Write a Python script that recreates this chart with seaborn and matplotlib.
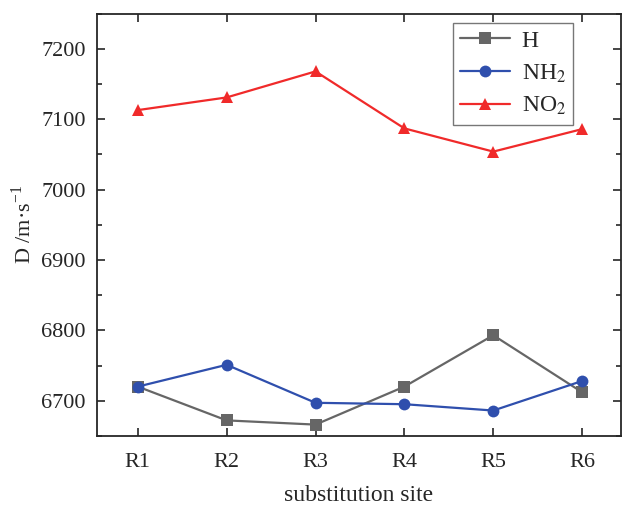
import matplotlib
matplotlib.use("Agg")
import matplotlib.pyplot as plt
import pandas as pd
import seaborn as sns
from matplotlib.ticker import MultipleLocator

sites = ["R1", "R2", "R3", "R4", "R5", "R6"]
h_vals = [6720, 6672, 6666, 6720, 6793, 6712]
nh2_vals = [6720, 6751, 6697, 6695, 6686, 6728]
no2_vals = [7113, 7131, 7168, 7087, 7054, 7086]
series = ["H", "NH$_2$", "NO$_2$"]

colors = {"H": "#666666", "NH$_2$": "#2f4fad", "NO$_2$": "#f02a2a"}
markers = {"H": "s", "NH$_2$": "o", "NO$_2$": "^"}

# long-form table for seaborn
df = pd.DataFrame({
    "site": sites * 3,
    "x": list(range(len(sites))) * 3,
    "D": h_vals + nh2_vals + no2_vals,
    "group": [s for s in series for _ in sites],
})

sns.set_style("ticks")
plt.rcParams["font.family"] = ["Liberation Serif", "DejaVu Serif"]
plt.rcParams["mathtext.fontset"] = "stix"

fig = plt.figure(figsize=(6.25, 5.08), dpi=100)
ax = fig.add_axes([0.155, 0.142, 0.839, 0.831])

sns.lineplot(data=df, x="x", y="D", hue="group", style="group",
             palette=colors, markers=markers, dashes=False,
             markersize=8.5, linewidth=1.6, markeredgewidth=0,
             ax=ax, legend=False)

handles = []
for s in series:
    ln, = ax.plot([], [], color=colors[s], marker=markers[s], markersize=8.5,
                  linewidth=1.6, markeredgewidth=0, label=s)
    handles.append(ln)
leg = ax.legend(handles=handles, loc="upper right", bbox_to_anchor=(0.908, 0.978),
                fontsize=17, fancybox=False, edgecolor="#555555",
                handlelength=2.1, borderpad=0.3, labelspacing=0.45,
                handletextpad=0.5, borderaxespad=0)
leg.get_frame().set_linewidth(1.0)

ax.set_xlim(-0.46, 5.44)
ax.set_ylim(6650, 7250)
ax.set_xticks(range(len(sites)))
ax.set_xticklabels(sites)
ax.yaxis.set_major_locator(MultipleLocator(100))
ax.yaxis.set_minor_locator(MultipleLocator(50))
ax.tick_params(axis="both", which="both", direction="in",
               top=True, right=True, labelsize=16, width=1.2)
ax.tick_params(axis="both", which="major", length=6)
ax.tick_params(axis="x", which="major", pad=12)
ax.tick_params(axis="y", which="major", pad=8)
ax.tick_params(axis="y", which="minor", length=3.5)
ax.tick_params(axis="x", which="minor", bottom=False, top=False)
for sp in ax.spines.values():
    sp.set_linewidth(1.3)

ax.set_xlabel("substitution site", fontsize=17, labelpad=10)
ax.set_ylabel("D /m·s$^{\\mathregular{-1}}$", fontsize=16, labelpad=4)

fig.savefig("out.png", dpi=100)
